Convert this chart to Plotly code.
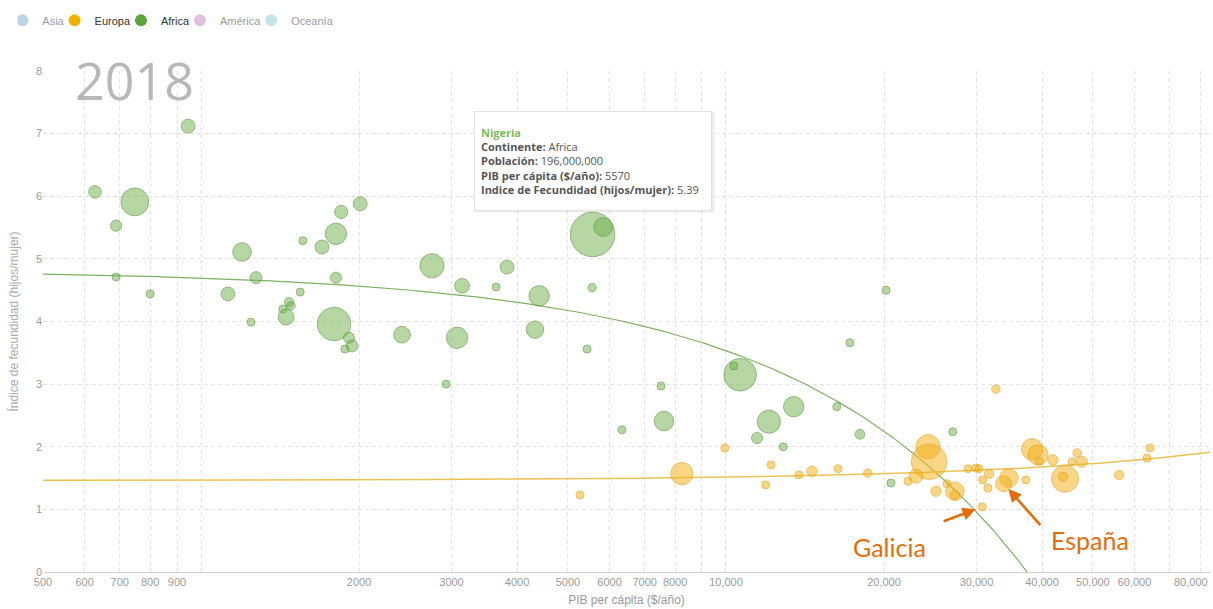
import numpy as np
import plotly.graph_objects as go

# ============================================================================
# Datos (2018)
# ============================================================================

anio = "2018"

# Africa: PIB per capita ($/año), indice de fecundidad, poblacion (millones)
africa_pib = [628, 748, 689, 689, 800, 945, 1197, 1273, 1125, 1245,
              1563, 1700, 1807, 1849, 2010, 1807, 1545, 1471, 1483, 1432,
              1452, 1792, 1914, 1940, 1880, 2415, 3074, 2754, 3141, 2930,
              3648, 3828, 4406, 4326, 5436, 5560, 5570, 5834, 6336, 7520,
              7620, 10640, 10350, 13460, 16260, 17220, 20180, 12070, 11460, 12850,
              17990, 20610, 27040]
africa_fec = [6.07, 5.91, 5.53, 4.71, 4.44, 7.12, 5.11, 4.70, 4.44, 3.99,
              5.29, 5.19, 5.40, 5.75, 5.88, 4.70, 4.47, 4.31, 4.25, 4.20,
              4.07, 3.96, 3.74, 3.61, 3.56, 3.79, 3.74, 4.89, 4.57, 3.00,
              4.55, 4.87, 4.41, 3.87, 3.56, 4.54, 5.39, 5.51, 2.27, 2.97,
              2.41, 3.15, 3.29, 2.64, 2.64, 3.66, 4.50, 2.40, 2.14, 2.00,
              2.20, 1.42, 2.24]
africa_pob = [15.5, 76.6, 12.3, 5.6, 5.6, 19, 34, 14, 19, 5.6,
              4, 19, 45, 17, 19, 12, 4, 8.5, 7, 3,
              25, 110, 12, 14, 4, 27.6, 45, 58, 21.5, 4,
              5.6, 19, 41, 30, 4, 7, 196, 34, 4, 4,
              37.5, 105, 4, 41, 4, 4, 4, 53, 12, 4,
              9.4, 4, 4]

# Europa
europa_pib = [5270, 8240, 9950, 12180, 11910, 13770, 14580, 16350, 18620, 24260,
              24370, 23010, 22230, 25120, 26360, 27290, 27290, 28900, 29920, 30340,
              31700, 30830, 31550, 30760, 34590, 33810, 37260, 38300, 39300, 39450,
              41970, 44240, 43850, 46660, 45620, 47640, 56100, 64270, 63390, 32660]
europa_fec = [1.23, 1.57, 1.98, 1.71, 1.39, 1.55, 1.61, 1.65, 1.58, 2.00,
              1.76, 1.53, 1.45, 1.29, 1.41, 1.29, 1.23, 1.65, 1.66, 1.65,
              1.57, 1.47, 1.34, 1.04, 1.50, 1.41, 1.47, 1.96, 1.87, 1.77,
              1.79, 1.49, 1.52, 1.90, 1.76, 1.76, 1.55, 1.98, 1.82, 2.92]
europa_pob = [4, 49, 4, 4, 4, 4, 10.5, 4, 7, 58,
              123, 19, 4, 10.5, 5.6, 34, 8.5, 3, 3, 3,
              8.5, 4, 3, 2.7, 34, 25, 3, 45, 41, 5.6,
              10.5, 72, 8.5, 7, 4, 12, 8.5, 4, 5.6, 7]

# puntos senalados (indice en las listas de Europa)
idx_galicia = 23
idx_espana = 25

# punto con la ficha abierta
ficha_idx = 36  # Nigeria en las listas de Africa
ficha_nombre = "Nigeria"
ficha_continente = "Africa"
ficha_poblacion = "196,000,000"

continentes = ["Asia", "Europa", "Africa", "América", "Oceanía"]
colores_leyenda = ["#7fa8cf", "#f0b000", "#5ca33c", "#c684b8", "#86cccc"]
activos = [False, True, True, False, False]

x_ticks = [500, 600, 700, 800, 900, 1000, 2000, 3000, 4000, 5000, 6000, 7000, 8000, 9000,
           10000, 20000, 30000, 40000, 50000, 60000, 70000, 80000]
x_ticktext = ["500", "600", "700", "800", "900", "", "2000", "3000", "4000", "5000", "6000",
              "7000", "8000", "", "10,000", "20,000", "30,000", "40,000", "50,000", "60,000",
              "", ""]
# la ultima etiqueta va como anotacion, pegada al borde derecho
ultimo_tick, ultimo_tick_txt = 80000, "80,000"

# ============================================================================
# Figura
# ============================================================================

SIZEREF = 196 / 31.5 ** 2   # Nigeria ~31px de diametro
GRID = "#e3e3e3"
GRAY = "#9a9a9a"
NARANJA = "#e46c0a"

fig = go.Figure()

# leyenda (entradas propias, colores solidos)
for nombre, color, activo in zip(continentes, colores_leyenda, activos):
    fig.add_trace(go.Scatter(
        x=[None], y=[None], mode="markers", name=nombre,
        marker=dict(color=color, size=12),
        visible=True if activo else "legendonly",
        legendgroup=nombre, showlegend=True))

# lineas de tendencia (regresion lineal sobre los datos)
x_fit = np.geomspace(500, 90000, 400)
for pib, fec, color, w in [(africa_pib, africa_fec, "#7db163", 1.2),
                           (europa_pib, europa_fec, "#e9c352", 1.5)]:
    b, a = np.polyfit(pib, fec, 1)
    fig.add_trace(go.Scatter(x=x_fit, y=a + b * x_fit, mode="lines",
                             line=dict(color=color, width=w),
                             hoverinfo="skip", showlegend=False))

fig.add_trace(go.Scatter(
    x=africa_pib, y=africa_fec, mode="markers", name="Africa", legendgroup="Africa",
    showlegend=False,
    marker=dict(size=africa_pob, sizemode="area", sizeref=SIZEREF, sizemin=4,
                color="rgba(112,178,76,0.72)", line=dict(color="rgba(84,145,55,0.9)", width=1))))

fig.add_trace(go.Scatter(
    x=europa_pib, y=europa_fec, mode="markers", name="Europa", legendgroup="Europa",
    showlegend=False,
    marker=dict(size=europa_pob, sizemode="area", sizeref=SIZEREF, sizemin=4,
                color="rgba(244,178,30,0.76)", line=dict(color="rgba(226,160,20,0.9)", width=1))))

# ficha de Nigeria (sombra + caja)
ficha = ("<span style='color:#7cb95a'><b>%s</b></span><br>"
         "<b>Continente:</b> %s<br>"
         "<b>Población:</b> %s<br>"
         "<b>PIB per cápita ($/año):</b> %d<br>"
         "<b>Indice de Fecundidad (hijos/mujer):</b> %.2f"
         % (ficha_nombre, ficha_continente, ficha_poblacion,
            africa_pib[ficha_idx], africa_fec[ficha_idx]))
fx, fy = np.log10(africa_pib[ficha_idx]), africa_fec[ficha_idx]
fig.add_annotation(x=fx, y=fy, text="", showarrow=False, width=224, height=86,
                   xanchor="center", yanchor="bottom", xshift=2, yshift=21,
                   bgcolor="rgba(0,0,0,0.07)", borderpad=7)
fig.add_annotation(x=fx, y=fy, text=ficha, showarrow=False, align="left",
                   width=224, height=86, valign="middle",
                   xanchor="center", yanchor="bottom", yshift=23,
                   font=dict(family="Open Sans", size=11, color="#555555"),
                   bgcolor="white", bordercolor="#e2e2e2", borderwidth=1, borderpad=6)

# Galicia / España
for idx, txt, ax, ay, dx, dy in [(idx_galicia, "Galicia", -40, 15, -93, -40),
                                 (idx_espana, "España", 38, 43, 86, -56)]:
    xl = np.log10(europa_pib[idx])
    fig.add_annotation(x=xl, y=europa_fec[idx], text="", showarrow=True,
                       ax=ax, ay=ay, arrowhead=2, arrowsize=1, arrowwidth=2.6,
                       arrowcolor=NARANJA, standoff=7)
    fig.add_annotation(x=xl, y=europa_fec[idx], text=txt, showarrow=False,
                       xanchor="center", yanchor="middle",
                       xshift=dx, yshift=dy,
                       font=dict(family="Lato", size=25, color=NARANJA))

# etiqueta del ultimo tick del eje x
fig.add_annotation(x=np.log10(ultimo_tick), xref="x", y=0, yref="paper",
                   text=ultimo_tick_txt, showarrow=False,
                   xanchor="right", yanchor="top", xshift=10, yshift=-2,
                   font=dict(family="Liberation Sans", size=11, color=GRAY))

# año
fig.add_annotation(xref="paper", yref="paper", x=0.026, y=0.983, xanchor="left",
                   yanchor="middle", text=anio, showarrow=False,
                   font=dict(family="Open Sans", size=52, color="#b8b8b8"))

fig.update_xaxes(
    type="log", range=[np.log10(500), 4.922],
    tickvals=x_ticks, ticktext=x_ticktext,
    tickfont=dict(family="Liberation Sans", size=11, color=GRAY),
    showgrid=True, gridcolor=GRID, griddash="4px,3px", gridwidth=1,
    showline=True, linecolor="#cccccc", linewidth=1, zeroline=False,
    title=dict(text="PIB per cápita ($/año)", standoff=8,
               font=dict(family="Liberation Sans", size=12, color=GRAY)))
fig.update_yaxes(
    range=[0, 8], dtick=1,
    tickfont=dict(family="Liberation Sans", size=11, color=GRAY),
    showgrid=True, gridcolor=GRID, griddash="4px,3px", gridwidth=1,
    zeroline=False, showline=False,
    title=dict(text="Índice de fecundidad (hijos/mujer)", standoff=14,
               font=dict(family="Liberation Sans", size=12, color="#aaaaaa")))

fig.update_layout(
    width=1213, height=609,
    margin=dict(l=43, r=3, t=71, b=37, autoexpand=False),
    plot_bgcolor="white", paper_bgcolor="white",
    showlegend=True,
    legend=dict(orientation="h", x=-0.022, y=1.13, xanchor="left", yanchor="top",
                font=dict(family="Liberation Sans", size=11, color="#333333"),
                itemwidth=30, indentation=-15, bgcolor="rgba(0,0,0,0)", itemclick=False),
    hovermode="closest",
)

fig.write_html("out.html", config={"displayModeBar": False},
               post_script="document.body.style.margin='0';")
